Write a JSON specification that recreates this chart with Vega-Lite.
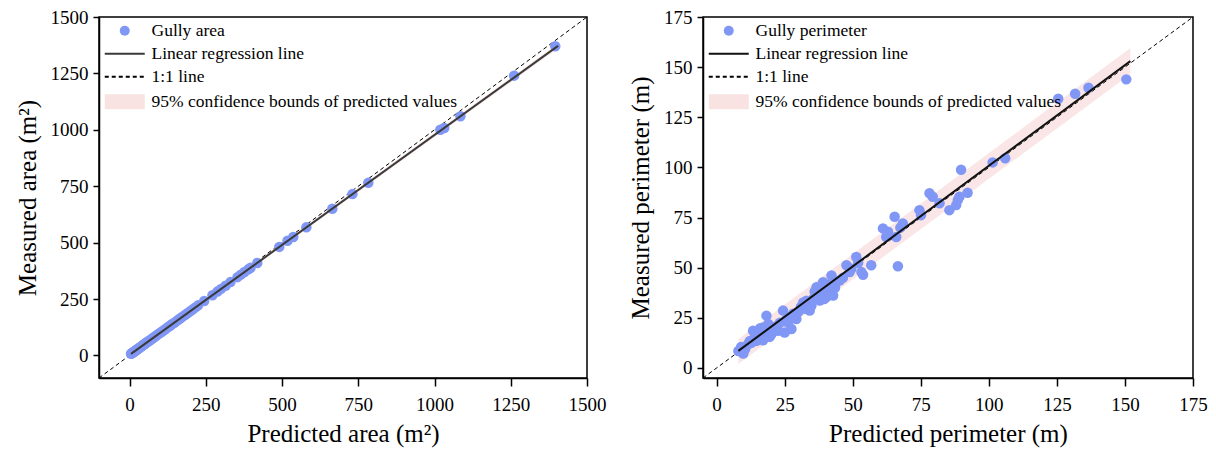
{
  "$schema": "https://vega.github.io/schema/vega-lite/v6.json",
  "padding": {"left": 14, "top": 7, "right": 5, "bottom": 3},
  "background": "white",
  "config": {
    "view": {"stroke": "black", "strokeWidth": 1.5},
    "axis": {"domainColor": "black", "domainWidth": 1.5, "tickColor": "black", "tickWidth": 1.5, "tickSize": 6, "labelFont": "Times New Roman, Liberation Serif, serif", "labelFontSize": 19, "labelColor": "black", "titleFont": "Times New Roman, Liberation Serif, serif", "titleFontSize": 25, "titleFontWeight": "normal", "titleColor": "black", "grid": false, "labelPadding": 5, "labelFlush": false, "format": "d"},
    "axisX": {"tickSize": 8, "labelPadding": 9, "titlePadding": 7},
    "legend": {"orient": "none", "legendX": 17, "legendY": 5, "padding": 0, "labelFont": "Times New Roman, Liberation Serif, serif", "labelFontSize": 17.5, "labelColor": "black", "labelOffset": 18, "rowPadding": 4, "symbolSize": 100, "symbolStrokeWidth": 1.8, "labelLimit": 450}
  },
  "datasets": {
    "areaPts": [
      {"pred": 5, "meas": 7}, {"pred": 7, "meas": 9}, {"pred": 9, "meas": 11}, {"pred": 11, "meas": 12}, {"pred": 13, "meas": 15}, {"pred": 15, "meas": 16}, {"pred": 17, "meas": 19}, {"pred": 19, "meas": 20}, {"pred": 21, "meas": 23}, {"pred": 24, "meas": 25},
      {"pred": 26, "meas": 28}, {"pred": 28, "meas": 29}, {"pred": 31, "meas": 32}, {"pred": 33, "meas": 34}, {"pred": 36, "meas": 37}, {"pred": 38, "meas": 39}, {"pred": 41, "meas": 42}, {"pred": 44, "meas": 45}, {"pred": 47, "meas": 48}, {"pred": 50, "meas": 51},
      {"pred": 53, "meas": 54}, {"pred": 56, "meas": 57}, {"pred": 59, "meas": 60}, {"pred": 62, "meas": 63}, {"pred": 66, "meas": 66}, {"pred": 70, "meas": 70}, {"pred": 74, "meas": 74}, {"pred": 78, "meas": 78}, {"pred": 82, "meas": 82}, {"pred": 86, "meas": 86},
      {"pred": 90, "meas": 90}, {"pred": 95, "meas": 95}, {"pred": 100, "meas": 100}, {"pred": 105, "meas": 104}, {"pred": 110, "meas": 109}, {"pred": 116, "meas": 115}, {"pred": 122, "meas": 121}, {"pred": 128, "meas": 127}, {"pred": 134, "meas": 133}, {"pred": 140, "meas": 139},
      {"pred": 147, "meas": 145}, {"pred": 154, "meas": 152}, {"pred": 161, "meas": 159}, {"pred": 168, "meas": 166}, {"pred": 175, "meas": 173}, {"pred": 183, "meas": 180}, {"pred": 191, "meas": 188}, {"pred": 200, "meas": 197}, {"pred": 208, "meas": 205}, {"pred": 216, "meas": 213},
      {"pred": 225, "meas": 222}, {"pred": 245, "meas": 241}, {"pred": 272, "meas": 267}, {"pred": 288, "meas": 283}, {"pred": 300, "meas": 295}, {"pred": 315, "meas": 309}, {"pred": 331, "meas": 325}, {"pred": 354, "meas": 347}, {"pred": 365, "meas": 358}, {"pred": 377, "meas": 370},
      {"pred": 390, "meas": 382}, {"pred": 397, "meas": 389}, {"pred": 419, "meas": 410}, {"pred": 491, "meas": 481}, {"pred": 518, "meas": 508}, {"pred": 537, "meas": 525}, {"pred": 580, "meas": 568}, {"pred": 665, "meas": 650}, {"pred": 731, "meas": 715}, {"pred": 783, "meas": 765},
      {"pred": 1019, "meas": 1000}, {"pred": 1032, "meas": 1008}, {"pred": 1085, "meas": 1060}, {"pred": 1261, "meas": 1240}, {"pred": 1396, "meas": 1370}
    ],
    "areaLine": [{"pred": 5, "meas": 7}, {"pred": 1405, "meas": 1372}],
    "areaBand": [{"pred": 5, "lo": 0, "hi": 14}, {"pred": 1405, "lo": 1362, "hi": 1382}],
    "areaDiag": [{"pred": -100, "meas": -100}, {"pred": 1500, "meas": 1500}],
    "perimPts": [
      {"pred": 8.0, "meas": 8.5}, {"pred": 9.0, "meas": 10.5}, {"pred": 9.8, "meas": 7.2}, {"pred": 10.5, "meas": 9.5}, {"pred": 11.5, "meas": 11.8}, {"pred": 12.2, "meas": 13.5}, {"pred": 12.8, "meas": 12.5}, {"pred": 13.4, "meas": 18.6}, {"pred": 14.0, "meas": 15.0}, {"pred": 14.7, "meas": 13.5},
      {"pred": 15.5, "meas": 16.5}, {"pred": 16.0, "meas": 19.8}, {"pred": 17.1, "meas": 20.2}, {"pred": 17.1, "meas": 13.8}, {"pred": 17.7, "meas": 18.5}, {"pred": 18.3, "meas": 26.1}, {"pred": 19.0, "meas": 21.9}, {"pred": 19.5, "meas": 15.5}, {"pred": 20.2, "meas": 16.9}, {"pred": 20.8, "meas": 18.5},
      {"pred": 21.5, "meas": 20.5}, {"pred": 22.6, "meas": 18.6}, {"pred": 23.2, "meas": 22.5}, {"pred": 24.4, "meas": 28.6}, {"pred": 25.0, "meas": 17.7}, {"pred": 25.5, "meas": 24.0}, {"pred": 26.3, "meas": 22.7}, {"pred": 26.9, "meas": 25.2}, {"pred": 27.5, "meas": 19.4}, {"pred": 28.1, "meas": 27.0},
      {"pred": 29.3, "meas": 24.4}, {"pred": 30.0, "meas": 28.0}, {"pred": 31.0, "meas": 30.5}, {"pred": 31.8, "meas": 32.7}, {"pred": 32.5, "meas": 29.5}, {"pred": 33.0, "meas": 33.5}, {"pred": 34.2, "meas": 28.6}, {"pred": 34.8, "meas": 31.0}, {"pred": 35.4, "meas": 34.4}, {"pred": 36.0, "meas": 38.0},
      {"pred": 36.7, "meas": 40.3}, {"pred": 37.2, "meas": 36.5}, {"pred": 37.9, "meas": 33.6}, {"pred": 38.5, "meas": 39.0}, {"pred": 39.1, "meas": 42.8}, {"pred": 39.5, "meas": 34.4}, {"pred": 40.3, "meas": 35.3}, {"pred": 41.0, "meas": 41.5}, {"pred": 41.5, "meas": 38.0}, {"pred": 42.2, "meas": 46.1},
      {"pred": 42.8, "meas": 36.1}, {"pred": 43.5, "meas": 40.0}, {"pred": 44.0, "meas": 43.0}, {"pred": 45.2, "meas": 43.6}, {"pred": 46.4, "meas": 45.0}, {"pred": 47.7, "meas": 51.2}, {"pred": 48.9, "meas": 47.8}, {"pred": 49.5, "meas": 49.5}, {"pred": 51.3, "meas": 55.3}, {"pred": 52.0, "meas": 52.5},
      {"pred": 53.2, "meas": 47.8}, {"pred": 53.8, "meas": 46.5}, {"pred": 56.8, "meas": 51.2}, {"pred": 61.1, "meas": 69.6}, {"pred": 62.3, "meas": 65.3}, {"pred": 63.0, "meas": 67.9}, {"pred": 65.4, "meas": 75.4}, {"pred": 66.0, "meas": 65.3}, {"pred": 66.6, "meas": 50.7}, {"pred": 67.5, "meas": 70.0},
      {"pred": 68.4, "meas": 72.1}, {"pred": 74.5, "meas": 78.7}, {"pred": 75.1, "meas": 76.2}, {"pred": 78.2, "meas": 87.1}, {"pred": 79.4, "meas": 85.4}, {"pred": 81.9, "meas": 82.1}, {"pred": 85.5, "meas": 78.7}, {"pred": 88.0, "meas": 81.2}, {"pred": 88.6, "meas": 83.7}, {"pred": 89.2, "meas": 85.4},
      {"pred": 89.8, "meas": 98.8}, {"pred": 92.2, "meas": 87.4}, {"pred": 101.4, "meas": 102.5}, {"pred": 106.0, "meas": 104.6}, {"pred": 125.5, "meas": 134.2}, {"pred": 131.7, "meas": 136.7}, {"pred": 136.6, "meas": 139.7}, {"pred": 150.5, "meas": 143.9}
    ],
    "perimLine": [{"pred": 8, "meas": 8.5}, {"pred": 152, "meas": 153}],
    "perimBand": [{"pred": 8, "lo": 2, "hi": 14.5}, {"pred": 152, "lo": 146.5, "hi": 159.5}],
    "perimDiag": [{"pred": -5, "meas": -5}, {"pred": 175, "meas": 175}]
  },
  "hconcat": [
    {
      "width": 488, "height": 361,
      "layer": [
        {"data": {"name": "areaBand"}, "mark": {"type": "area", "color": "#F8DCDC", "opacity": 0.7},
         "encoding": {"x": {"field": "pred", "type": "quantitative", "scale": {"domain": [-100, 1500], "nice": false, "zero": false}, "axis": {"values": [0, 250, 500, 750, 1000, 1250, 1500], "title": "Predicted area (m²)"}},
                      "y": {"field": "lo", "type": "quantitative", "scale": {"domain": [-100, 1500], "nice": false, "zero": false}, "axis": {"values": [0, 250, 500, 750, 1000, 1250, 1500], "title": "Measured area (m²)", "titlePadding": 10}},
                      "y2": {"field": "hi"}}},
        {"data": {"name": "areaDiag"}, "mark": {"type": "line", "color": "black", "strokeWidth": 1, "strokeDash": [4, 3], "clip": true},
         "encoding": {"x": {"field": "pred", "type": "quantitative"}, "y": {"field": "meas", "type": "quantitative"}}},
        {"data": {"name": "areaPts"}, "mark": {"type": "point", "filled": true, "size": 110, "opacity": 1},
         "encoding": {"x": {"field": "pred", "type": "quantitative"}, "y": {"field": "meas", "type": "quantitative"},
                      "fill": {"datum": "Gully area", "type": "nominal", "scale": {"domain": ["Gully area", "Linear regression line", "1:1 line", "95% confidence bounds of predicted values"], "range": ["#8097F5", "transparent", "transparent", "#F9E2E2"]}, "legend": {"title": null}},
                      "stroke": {"datum": "Gully area", "type": "nominal", "scale": {"domain": ["Gully area", "Linear regression line", "1:1 line", "95% confidence bounds of predicted values"], "range": ["transparent", "#3a3a3a", "#000000", "transparent"]}, "legend": {"title": null}},
                      "shape": {"datum": "Gully area", "type": "nominal", "scale": {"domain": ["Gully area", "Linear regression line", "1:1 line", "95% confidence bounds of predicted values"], "range": ["circle", "M-4,0H4", "M-4,0H4", "M-4,-1.5H4V1.5H-4Z"]}, "legend": {"title": null}},
                      "strokeDash": {"datum": "Gully area", "type": "nominal", "scale": {"domain": ["Gully area", "Linear regression line", "1:1 line", "95% confidence bounds of predicted values"], "range": [[1, 0], [1, 0], [4, 3], [1, 0]]}, "legend": {"title": null}}}},
        {"data": {"name": "areaLine"}, "mark": {"type": "line", "color": "#3a3a3a", "strokeWidth": 2},
         "encoding": {"x": {"field": "pred", "type": "quantitative"}, "y": {"field": "meas", "type": "quantitative"}}}
      ]
    },
    {
      "width": 490, "height": 361,
      "layer": [
        {"data": {"name": "perimBand"}, "mark": {"type": "area", "color": "#F8DCDC", "opacity": 0.7},
         "encoding": {"x": {"field": "pred", "type": "quantitative", "scale": {"domain": [-5, 175], "nice": false, "zero": false}, "axis": {"values": [0, 25, 50, 75, 100, 125, 150, 175], "title": "Predicted perimeter (m)"}},
                      "y": {"field": "lo", "type": "quantitative", "scale": {"domain": [-5, 175], "nice": false, "zero": false}, "axis": {"values": [0, 25, 50, 75, 100, 125, 150, 175], "title": "Measured perimeter (m)", "titlePadding": 10}},
                      "y2": {"field": "hi"}}},
        {"data": {"name": "perimDiag"}, "mark": {"type": "line", "color": "black", "strokeWidth": 1, "strokeDash": [4, 3], "clip": true},
         "encoding": {"x": {"field": "pred", "type": "quantitative"}, "y": {"field": "meas", "type": "quantitative"}}},
        {"data": {"name": "perimPts"}, "mark": {"type": "point", "filled": true, "size": 110, "opacity": 1},
         "encoding": {"x": {"field": "pred", "type": "quantitative"}, "y": {"field": "meas", "type": "quantitative"},
                      "fill": {"datum": "Gully perimeter", "type": "nominal", "scale": {"domain": ["Gully perimeter", "Linear regression line", "1:1 line", "95% confidence bounds of predicted values"], "range": ["#8097F5", "transparent", "transparent", "#F9E2E2"]}, "legend": {"title": null}},
                      "stroke": {"datum": "Gully perimeter", "type": "nominal", "scale": {"domain": ["Gully perimeter", "Linear regression line", "1:1 line", "95% confidence bounds of predicted values"], "range": ["transparent", "#111111", "#000000", "transparent"]}, "legend": {"title": null}},
                      "shape": {"datum": "Gully perimeter", "type": "nominal", "scale": {"domain": ["Gully perimeter", "Linear regression line", "1:1 line", "95% confidence bounds of predicted values"], "range": ["circle", "M-4,0H4", "M-4,0H4", "M-4,-1.5H4V1.5H-4Z"]}, "legend": {"title": null}},
                      "strokeDash": {"datum": "Gully perimeter", "type": "nominal", "scale": {"domain": ["Gully perimeter", "Linear regression line", "1:1 line", "95% confidence bounds of predicted values"], "range": [[1, 0], [1, 0], [4, 3], [1, 0]]}, "legend": {"title": null}}}},
        {"data": {"name": "perimLine"}, "mark": {"type": "line", "color": "#111111", "strokeWidth": 2},
         "encoding": {"x": {"field": "pred", "type": "quantitative"}, "y": {"field": "meas", "type": "quantitative"}}}
      ]
    }
  ],
  "spacing": 116,
  "bounds": "flush",
  "resolve": {"scale": {"fill": "independent", "stroke": "independent", "shape": "independent", "strokeDash": "independent", "x": "independent", "y": "independent"}, "legend": {"fill": "independent", "stroke": "independent", "shape": "independent", "strokeDash": "independent"}}
}
